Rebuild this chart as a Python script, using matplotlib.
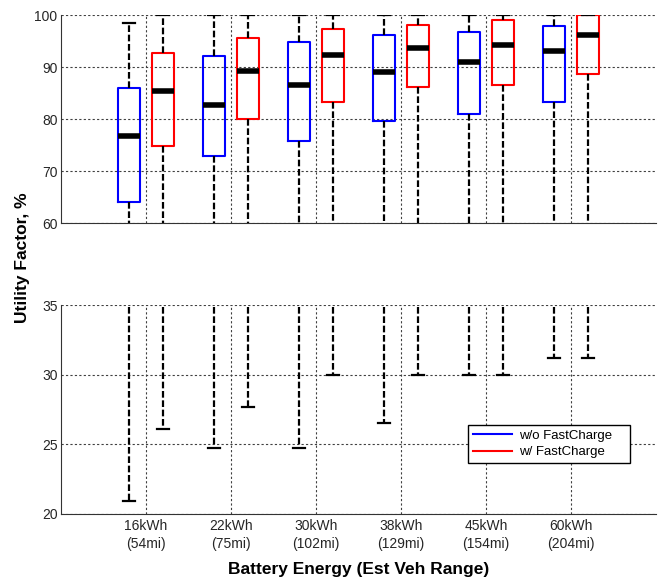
"""Utility factor box plots by battery size, with and without fast charging."""

import matplotlib
matplotlib.use("Agg")
import matplotlib.pyplot as plt
from matplotlib.lines import Line2D

plt.rcParams["font.family"] = ["Liberation Sans", "DejaVu Sans"]

batteries = ["16kWh\n(54mi)", "22kWh\n(75mi)", "30kWh\n(102mi)",
             "38kWh\n(129mi)", "45kWh\n(154mi)", "60kWh\n(204mi)"]

# without fast charging
noFC_whislo = [20.9, 24.7, 24.7, 26.5, 30.0, 31.2]
noFC_q1 = [64.0, 72.9, 75.8, 79.6, 81.0, 83.3]
noFC_med = [76.7, 82.7, 86.6, 89.0, 91.0, 93.1]
noFC_q3 = [86.0, 92.2, 94.9, 96.1, 96.8, 97.9]
noFC_whishi = [98.5, 100.0, 100.0, 100.0, 100.0, 100.0]

# with fast charging
FC_whislo = [26.1, 27.7, 30.0, 30.0, 30.0, 31.2]
FC_q1 = [74.9, 80.0, 83.2, 86.2, 86.6, 88.7]
FC_med = [85.4, 89.3, 92.4, 93.7, 94.3, 96.1]
FC_q3 = [92.7, 95.5, 97.4, 98.1, 99.0, 100.0]
FC_whishi = [100.0, 100.0, 100.0, 100.0, 100.0, 100.0]


def _stats(lo, q1, med, q3, hi):
    return [dict(whislo=a, q1=b, med=c, q3=d, whishi=e, fliers=[])
            for a, b, c, d, e in zip(lo, q1, med, q3, hi)]


def _draw(ax, stats, positions, color):
    ax.bxp(stats, positions=positions, widths=0.27, capwidths=0.14,
           showfliers=False, manage_ticks=False,
           boxprops=dict(color=color, linewidth=1.5),
           medianprops=dict(color="black", linewidth=4, solid_capstyle="butt"),
           whiskerprops=dict(color="black", linewidth=1.6, linestyle=(0, (3, 1.2))),
           capprops=dict(color="black", linewidth=1.6))


fig = plt.figure(figsize=(6.6, 5.78), dpi=100)
ax_top = fig.add_axes([0.0924, 0.614, 0.9015, 0.360])
ax_bot = fig.add_axes([0.0924, 0.111, 0.9015, 0.361])

centers = list(range(1, len(batteries) + 1))
pos_no = [c - 0.2 for c in centers]
pos_fc = [c + 0.2 for c in centers]
noFC = _stats(noFC_whislo, noFC_q1, noFC_med, noFC_q3, noFC_whishi)
FC = _stats(FC_whislo, FC_q1, FC_med, FC_q3, FC_whishi)

for ax in (ax_top, ax_bot):
    _draw(ax, noFC, pos_no, "blue")
    _draw(ax, FC, pos_fc, "red")
    ax.set_xlim(0, 7)
    ax.set_xticks(centers)
    ax.grid(True, color="0.25", linestyle=(0, (2, 2)), linewidth=0.8)
    ax.set_axisbelow(True)
    for side in ("top", "right"):
        ax.spines[side].set_visible(False)
    ax.spines["left"].set_color("0.2")
    ax.spines["bottom"].set_color("0.2")
    ax.tick_params(length=0, labelsize=10, colors="0.15", pad=2.5)

ax_top.set_ylim(60, 100)
ax_top.set_yticks([60, 70, 80, 90, 100])
ax_top.set_xticklabels([])

ax_bot.set_ylim(20, 35)
ax_bot.set_yticks([20, 25, 30, 35])
ax_bot.set_xticklabels(batteries, linespacing=1.3)
ax_bot.tick_params(axis="x", pad=4)
ax_bot.set_xlabel("Battery Energy (Est Veh Range)", fontsize=12.5, fontweight="bold", labelpad=8)

fig.text(0.034, 0.554, "Utility Factor, %", rotation=90, ha="center", va="center",
         fontsize=12.5, fontweight="bold")

handles = [Line2D([], [], color="blue", linewidth=1.5),
           Line2D([], [], color="red", linewidth=1.5)]
leg = ax_bot.legend(handles, ["w/o FastCharge", "w/ FastCharge"],
                    loc="lower left", bbox_to_anchor=(0.684, 0.244, 0.272, 0.215),
                    mode="expand", fontsize=9.5, handlelength=3.0, handletextpad=0.5,
                    borderaxespad=0, borderpad=0.35, labelspacing=0.3,
                    fancybox=False, framealpha=1)
leg.get_frame().set_edgecolor("black")
leg.get_frame().set_linewidth(1)

fig.savefig("out.png", dpi=100)
